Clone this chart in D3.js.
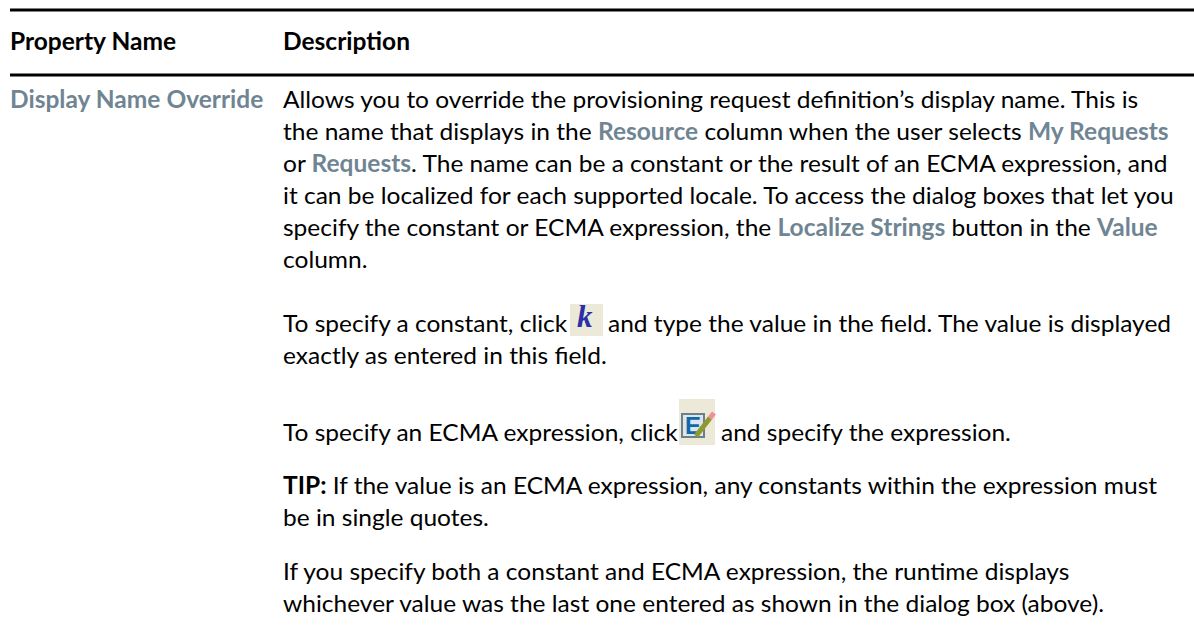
<!DOCTYPE html>
<html>
<head>
<meta charset="utf-8">
<script src="https://cdn.jsdelivr.net/npm/d3@7"></script>
<style>
html, body { margin: 0; padding: 0; background: #fff; }
svg { display: block; }
text { font-family: Lato, "Open Sans", sans-serif; font-size: 24px; fill: #000; }
</style>
</head>
<body>
<svg width="1194" height="627"></svg>
<script>
var headers = ["Property Name", "Description"];
var rowName = "Display Name Override";

// each line is a list of [text, style] runs: 0 plain, 1 grey bold, 2 black bold
var lines = [
	{ y: 108, runs: [["Allows you to override the provisioning request definition’s display name. This is", 0]] },
	{ y: 140, runs: [["the name that displays in the ", 0], ["Resource", 1], [" column when the user selects ", 0], ["My Requests", 1]] },
	{ y: 172, runs: [["or ", 0], ["Requests", 1], [". The name can be a constant or the result of an ECMA expression, and", 0]] },
	{ y: 204, runs: [["it can be localized for each supported locale. To access the dialog boxes that let you", 0]] },
	{ y: 236, runs: [["specify the constant or ECMA expression, the ", 0], ["Localize Strings", 1], [" button in the ", 0], ["Value", 1]] },
	{ y: 268, runs: [["column.", 0]] },
	{ y: 332, runs: [["To specify a constant, click", 0]] },
	{ y: 332, x: 608, runs: [["and type the value in the field. The value is displayed", 0]] },
	{ y: 364, runs: [["exactly as entered in this field.", 0]] },
	{ y: 441, runs: [["To specify an ECMA expression, click", 0]] },
	{ y: 441, x: 721, runs: [["and specify the expression.", 0]] },
	{ y: 494, runs: [["TIP:", 2], [" If the value is an ECMA expression, any constants within the expression must", 0]] },
	{ y: 526, runs: [["be in single quotes.", 0]] },
	{ y: 580, runs: [["If you specify both a constant and ECMA expression, the runtime displays", 0]] },
	{ y: 612, runs: [["whichever value was the last one entered as shown in the dialog box (above).", 0]] }
];

var svg = d3.select("svg");
var descX = 283;
var squeeze = 1.022;

svg.selectAll("line.rule")
	.data([10, 75])
	.enter().append("line")
	.attr("class", "rule")
	.attr("x1", 10)
	.attr("x2", 1194)
	.attr("y1", d => d)
	.attr("y2", d => d)
	.attr("stroke", "#000")
	.attr("stroke-width", 3);

function place(x, y) {
	return "translate(" + x + "," + y + ") scale(" + squeeze + ",1)";
}

svg.selectAll("text.head")
	.data(headers)
	.enter().append("text")
	.attr("class", "head")
	.attr("transform", (d, i) => place(i ? descX : 10, 50))
	.style("font-weight", 700)
	.text(d => d);

svg.append("text")
	.attr("transform", place(10, 108))
	.style("font-weight", 700)
	.style("fill", "#6f8593")
	.text(rowName);

lines.forEach(line => {
	var t = svg.append("text")
		.attr("transform", place(line.x || descX, line.y))
		.attr("xml:space", "preserve");
	line.runs.forEach(r => {
		var s = t.append("tspan").text(r[0]);
		if (r[1] === 1) s.style("font-weight", 700).style("fill", "#6f8593");
		if (r[1] === 2) s.style("font-weight", 700);
	});
});

// toolbar icons inside the text
svg.append("rect").attr("x", 570).attr("y", 304).attr("width", 33).attr("height", 32).attr("fill", "#ece9d8");
svg.append("text")
	.attr("x", 577).attr("y", 327)
	.style("font-family", "'Liberation Serif'")
	.style("font-size", "31px")
	.style("font-weight", 700)
	.style("font-style", "italic")
	.style("fill", "#2b2fa8")
	.text("k");

var icon = svg.append("g").attr("transform", "translate(679,399)");
icon.append("rect").attr("width", 36).attr("height", 46).attr("fill", "#ece9d8");
icon.append("rect").attr("x", 3).attr("y", 15).attr("width", 22).attr("height", 23).attr("fill", "#dfe6ea").attr("stroke", "#6d7f8a").attr("stroke-width", 2);
icon.append("text")
	.attr("x", 6).attr("y", 35)
	.style("font-family", "'Liberation Sans'")
	.style("font-size", "24px")
	.style("font-weight", 700)
	.style("fill", "#0f68ad")
	.text("E");
icon.append("line").attr("x1", 17).attr("y1", 37).attr("x2", 31).attr("y2", 19).attr("stroke", "#8f9a2e").attr("stroke-width", 5);
icon.append("line").attr("x1", 31).attr("y1", 19).attr("x2", 35).attr("y2", 14).attr("stroke", "#f08f97").attr("stroke-width", 5);
</script>
</body>
</html>
